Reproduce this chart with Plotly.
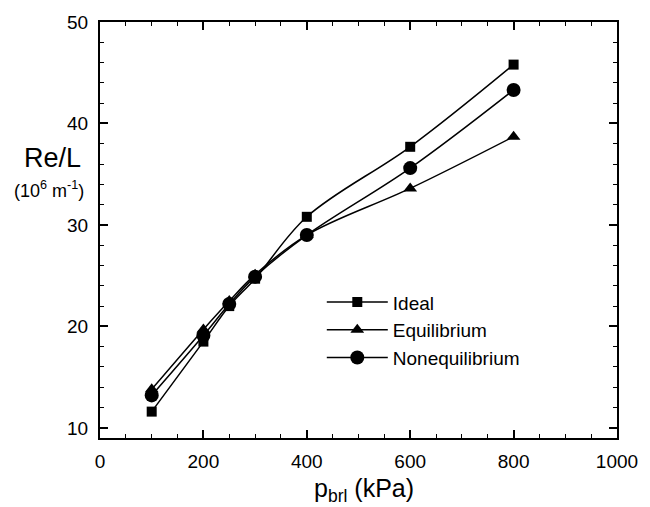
import plotly.graph_objects as go

# Reynolds number per unit length vs. reservoir pressure
p_kpa = [100, 200, 250, 300, 400, 600, 800]
ideal = [11.6, 18.5, 22.0, 24.7, 30.8, 37.7, 45.8]
equilibrium = [13.8, 19.7, 22.5, 25.1, 29.0, 33.6, 38.7]
nonequilibrium = [13.2, 19.1, 22.2, 24.9, 29.0, 35.6, 43.3]

x_ticks = [0, 200, 400, 600, 800, 1000]
y_ticks = [10, 20, 30, 40, 50]

FONT = "Liberation Sans, Arial, Helvetica, sans-serif"

series = [
    ("Ideal", ideal, "square", 10),
    ("Equilibrium", equilibrium, "triangle-up", 12),
    ("Nonequilibrium", nonequilibrium, "circle", 14),
]

fig = go.Figure()
for name, vals, sym, size in series:
    fig.add_trace(go.Scatter(
        x=p_kpa, y=vals, name=name, mode="lines+markers",
        line=dict(color="black", width=1.5, shape="spline", smoothing=1),
        marker=dict(symbol=sym, size=size, color="black"),
    ))

axis_common = dict(
    showline=True, linecolor="black", linewidth=2, mirror="ticks",
    ticks="inside", ticklen=8, tickwidth=1.5, tickcolor="black",
    showgrid=False, zeroline=False,
    tickfont=dict(family=FONT, size=19, color="black"),
)

fig.update_xaxes(range=[0, 1000], tickvals=x_ticks,
                 minor=dict(dtick=50, ticks="inside", ticklen=4, tickcolor="black", tickwidth=1),
                 ticklabelstandoff=5, **axis_common)
fig.update_yaxes(range=[9, 50], tickvals=y_ticks,
                 minor=dict(tick0=10, dtick=2, ticks="inside", ticklen=4, tickcolor="black", tickwidth=1),
                 ticklabelstandoff=6, **axis_common)

fig.add_annotation(text="Re/L", xref="paper", yref="paper", x=-0.0916, y=0.674,
                   xanchor="center", yanchor="middle", showarrow=False,
                   font=dict(family=FONT, size=27, color="black"))
fig.add_annotation(text="(10<sup>6</sup> m<sup>-1</sup>)", xref="paper", yref="paper",
                   x=-0.099, y=0.598, xanchor="center", yanchor="middle", showarrow=False,
                   font=dict(family=FONT, size=18, color="black"))
fig.add_annotation(text="p<sub>brl</sub> (kPa)", xref="paper", yref="paper",
                   x=0.511, y=-0.124, xanchor="center", yanchor="middle", showarrow=False,
                   font=dict(family=FONT, size=25, color="black"))

fig.update_layout(
    width=650, height=507,
    margin=dict(l=100, r=26, t=15, b=69),
    paper_bgcolor="white", plot_bgcolor="white",
    showlegend=True,
    legend=dict(x=0.429, y=0.372, xanchor="left", yanchor="top",
                bgcolor="rgba(0,0,0,0)", traceorder="normal",
                font=dict(family=FONT, size=19, color="black"), itemwidth=61),
)

fig.write_html("out.html")
